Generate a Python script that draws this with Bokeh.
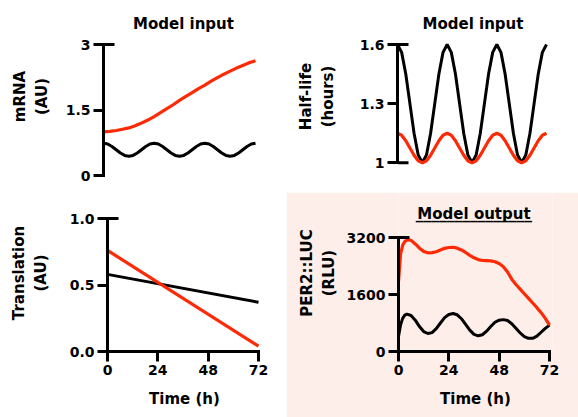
from bokeh.plotting import figure
from bokeh.models import Range1d, FixedTicker, Label
from bokeh.layouts import column, row
from bokeh.embed import file_html
from bokeh.resources import INLINE

RED = "#fe2a06"
BLACK = "#000000"
PINK = "#fdeee9"
FONT = "DejaVu Sans"

# ---------------- data ----------------
hour_ticks = [0, 24, 48, 72]

# Panel 1: mRNA (AU)
mrna_ticks = [0, 1.5, 3]
mrna_labels = {0: "0", 1.5: "1.5", 3: "3"}
mrna_red_t = [0, 3, 6, 9, 12, 15, 18, 21, 24, 27, 30, 33, 36, 39, 42, 45, 48, 51, 54, 57, 60, 63, 66, 69, 72]
mrna_red = [1.00, 1.01, 1.03, 1.06, 1.09, 1.14, 1.20, 1.27, 1.35, 1.44, 1.53, 1.62, 1.72, 1.81, 1.90,
            1.99, 2.07, 2.16, 2.24, 2.32, 2.39, 2.46, 2.52, 2.58, 2.63]
osc_t = [0, 2, 4, 6, 8, 10, 12, 14, 16, 18, 20, 22, 24, 26, 28, 30, 32, 34, 36, 38, 40, 42, 44, 46,
         48, 50, 52, 54, 56, 58, 60, 62, 64, 66, 68, 70, 72]
mrna_black = [0.74, 0.72, 0.665, 0.59, 0.515, 0.46, 0.44, 0.46, 0.515, 0.59, 0.665, 0.72,
              0.74, 0.72, 0.665, 0.59, 0.515, 0.46, 0.44, 0.46, 0.515, 0.59, 0.665, 0.72,
              0.74, 0.72, 0.665, 0.59, 0.515, 0.46, 0.44, 0.46, 0.515, 0.59, 0.665, 0.72, 0.74]

# Panel 2: Half-life (hours)
hl_ticks = [1, 1.3, 1.6]
hl_labels = {1: "1", 1.3: "1.3", 1.6: "1.6"}
hl_black = [1.60, 1.56, 1.45, 1.30, 1.15, 1.04, 1.00, 1.04, 1.15, 1.30, 1.45, 1.56,
            1.60, 1.56, 1.45, 1.30, 1.15, 1.04, 1.00, 1.04, 1.15, 1.30, 1.45, 1.56,
            1.60, 1.56, 1.45, 1.30, 1.15, 1.04, 1.00, 1.04, 1.15, 1.30, 1.45, 1.56, 1.60]
hl_red = [1.150, 1.140, 1.112, 1.075, 1.038, 1.010, 1.000, 1.010, 1.038, 1.075, 1.112, 1.140,
          1.150, 1.140, 1.112, 1.075, 1.038, 1.010, 1.000, 1.010, 1.038, 1.075, 1.112, 1.140,
          1.150, 1.140, 1.112, 1.075, 1.038, 1.010, 1.000, 1.010, 1.038, 1.075, 1.112, 1.140, 1.150]

# Panel 3: Translation (AU)
tr_ticks = [0.0, 0.5, 1.0]
tr_labels = {0: "0.0", 0.5: "0.5", 1: "1.0"}
tr_t = [0, 72]
tr_red = [0.76, 0.04]
tr_black = [0.58, 0.37]

# Panel 4: PER2::LUC (RLU)
luc_ticks = [0, 1600, 3200]
luc_red_t = [0, 1, 2, 3, 4.5, 6, 8, 10, 12, 14, 16, 18, 20, 22, 24, 26, 28, 30, 32, 34, 36, 38,
             40, 42, 44, 46, 48, 50, 52, 54, 56, 58, 60, 62, 64, 66, 68, 70, 72]
luc_red = [1960, 2750, 2980, 3090, 3140, 3120, 3020, 2900, 2810, 2770, 2775, 2800, 2850, 2895,
           2920, 2925, 2900, 2850, 2780, 2700, 2630, 2580, 2555, 2550, 2545, 2520, 2470, 2380,
           2230, 2030, 1880, 1750, 1620, 1490, 1360, 1230, 1090, 930, 740]
luc_black_t = [0, 1, 2, 3, 4, 6, 8, 10, 12, 14, 16, 18, 20, 22, 24, 26, 28, 30, 32, 34, 36, 38,
               40, 42, 44, 46, 48, 50, 52, 54, 56, 58, 60, 62, 64, 66, 68, 70, 72]
luc_black = [420, 750, 930, 1020, 1050, 1010, 880, 700, 560, 505, 530, 640, 800, 950, 1040, 1065,
             1030, 920, 760, 600, 480, 440, 470, 570, 700, 820, 880, 895, 870, 780, 650, 520, 420,
             370, 370, 430, 540, 650, 740]


# ---------------- helpers ----------------
TOP_B = 2  # frame starts near the top so that titles drawn inside the frame stay visible


def y_range_for(lo_val, hi_val, lo_px, hi_px, frame_top, frame_bottom):
    """Range so that lo_val sits at pixel lo_px and hi_val at hi_px (pixels from figure top)."""
    per_px = (hi_val - lo_val) / (lo_px - hi_px)
    return Range1d(lo_val - (frame_bottom - lo_px) * per_px, hi_val + (hi_px - frame_top) * per_px)


def x_range_for(span_px, pad_px=3):
    return Range1d(hour_ticks[0], hour_ticks[-1] + pad_px * (hour_ticks[-1] - hour_ticks[0]) / span_px)


def make_fig(w, h, left, right, top, bottom, xr, yr, bg="white"):
    p = figure(width=w, height=h, x_range=xr, y_range=yr, output_backend="svg",
               toolbar_location=None, min_border_left=left, min_border_right=right,
               min_border_top=top, min_border_bottom=bottom,
               background_fill_color=bg, border_fill_color=bg, outline_line_color=None)
    p.grid.visible = False
    return p


def style_axis(ax, ticks, overrides, label, standoff):
    ax.ticker = FixedTicker(ticks=ticks)
    ax.bounds = (ticks[0], ticks[-1])
    if overrides:
        ax.major_label_overrides = overrides
    ax.axis_line_width = 3
    ax.axis_line_cap = "square"
    ax.major_tick_line_width = 3
    ax.major_tick_out = 10
    ax.major_tick_in = 0
    ax.minor_tick_line_color = None
    ax.major_label_text_font = FONT
    ax.major_label_text_font_style = "bold"
    ax.major_label_text_font_size = "14px"
    ax.major_label_text_color = "black"
    ax.major_label_standoff = 3
    ax.axis_label = label
    ax.axis_label_text_font = FONT
    ax.axis_label_text_font_style = "bold"
    ax.axis_label_text_font_size = "15px"
    ax.axis_label_text_color = "black"
    ax.axis_label_standoff = standoff


def inner_tick(p, x, y):
    p.ray(x=[x], y=[y], length=11, length_units="screen", angle=0,
          line_width=3, line_color="black", line_cap="butt")


def title(p, text, y, yoff, xoff=0):
    x = (hour_ticks[0] + hour_ticks[-1]) / 2
    p.add_layout(Label(x=x, y=y, x_offset=xoff, y_offset=yoff, text=text, text_align="center",
                       text_baseline="alphabetic", text_font=FONT, text_font_style="bold",
                       text_font_size="15px", text_color="black"))


# ---------------- panel 1 (top left) ----------------
H1 = 192
p1 = make_fig(286, H1, 103, 28, TOP_B, 2, x_range_for(152),
              y_range_for(mrna_ticks[0], mrna_ticks[-1], 175, 44, TOP_B, H1 - 2))
p1.xaxis.visible = False
style_axis(p1.yaxis[0], mrna_ticks, mrna_labels, "mRNA\n(AU)", 12)
p1.line(osc_t, mrna_black, line_color=BLACK, line_width=3)
p1.line(mrna_red_t, mrna_red, line_color=RED, line_width=3.2)
inner_tick(p1, hour_ticks[0], mrna_ticks[-1])
title(p1, "Model input", mrna_ticks[-1], 21, 4)

# ---------------- panel 2 (top right) ----------------
p2 = make_fig(292, H1, 111, 29, TOP_B, 2, x_range_for(149.4),
              y_range_for(hl_ticks[0], hl_ticks[-1], 162.3, 44, TOP_B, H1 - 2))
p2.xaxis.visible = False
style_axis(p2.yaxis[0], hl_ticks, hl_labels, "Half-life\n(hours)", 20)
p2.line(osc_t, hl_black, line_color=BLACK, line_width=3)
p2.line(osc_t, hl_red, line_color=RED, line_width=3.2)
inner_tick(p2, hour_ticks[0], hl_ticks[-1])
inner_tick(p2, hour_ticks[0], hl_ticks[0])
title(p2, "Model input", hl_ticks[-1], 21, 1)

# ---------------- panel 3 (bottom left) ----------------
H2 = 225
BOT = 66
p3 = make_fig(286, H2, 107, 25, TOP_B, BOT, x_range_for(151),
              y_range_for(tr_ticks[0], tr_ticks[-1], H2 - BOT, 26, TOP_B, H2 - BOT))
style_axis(p3.yaxis[0], tr_ticks, tr_labels, "Translation\n(AU)", 17)
style_axis(p3.xaxis[0], hour_ticks, None, "Time (h)", 12)
p3.line(tr_t, tr_black, line_color=BLACK, line_width=3)
p3.line(tr_t, tr_red, line_color=RED, line_width=3.2)
inner_tick(p3, hour_ticks[0], tr_ticks[-1])

# ---------------- panel 4 (bottom right, pink) ----------------
p4 = make_fig(292, H2, 112, 26, TOP_B, BOT, x_range_for(150.6),
              y_range_for(luc_ticks[0], luc_ticks[-1], H2 - BOT, 45, TOP_B, H2 - BOT), bg=PINK)
style_axis(p4.yaxis[0], luc_ticks, None, "PER2::LUC\n(RLU)", 6)
style_axis(p4.xaxis[0], hour_ticks, None, "Time (h)", 12)
p4.line(luc_black_t, luc_black, line_color=BLACK, line_width=3)
p4.line(luc_red_t, luc_red, line_color=RED, line_width=3.2)
inner_tick(p4, hour_ticks[0], luc_ticks[-1])
title(p4, "Model output", luc_ticks[-1], 23.5)
p4.add_layout(Label(x=(hour_ticks[0] + hour_ticks[-1]) / 2, y=luc_ticks[-1], y_offset=23.5,
                    text="_" * 15, text_align="center", text_baseline="alphabetic",
                    text_font=FONT, text_font_style="bold", text_font_size="15.5px",
                    text_color="black"))

layout = column(row(p1, p2), row(p3, p4))
open("out.html", "w").write(file_html(layout, INLINE))
